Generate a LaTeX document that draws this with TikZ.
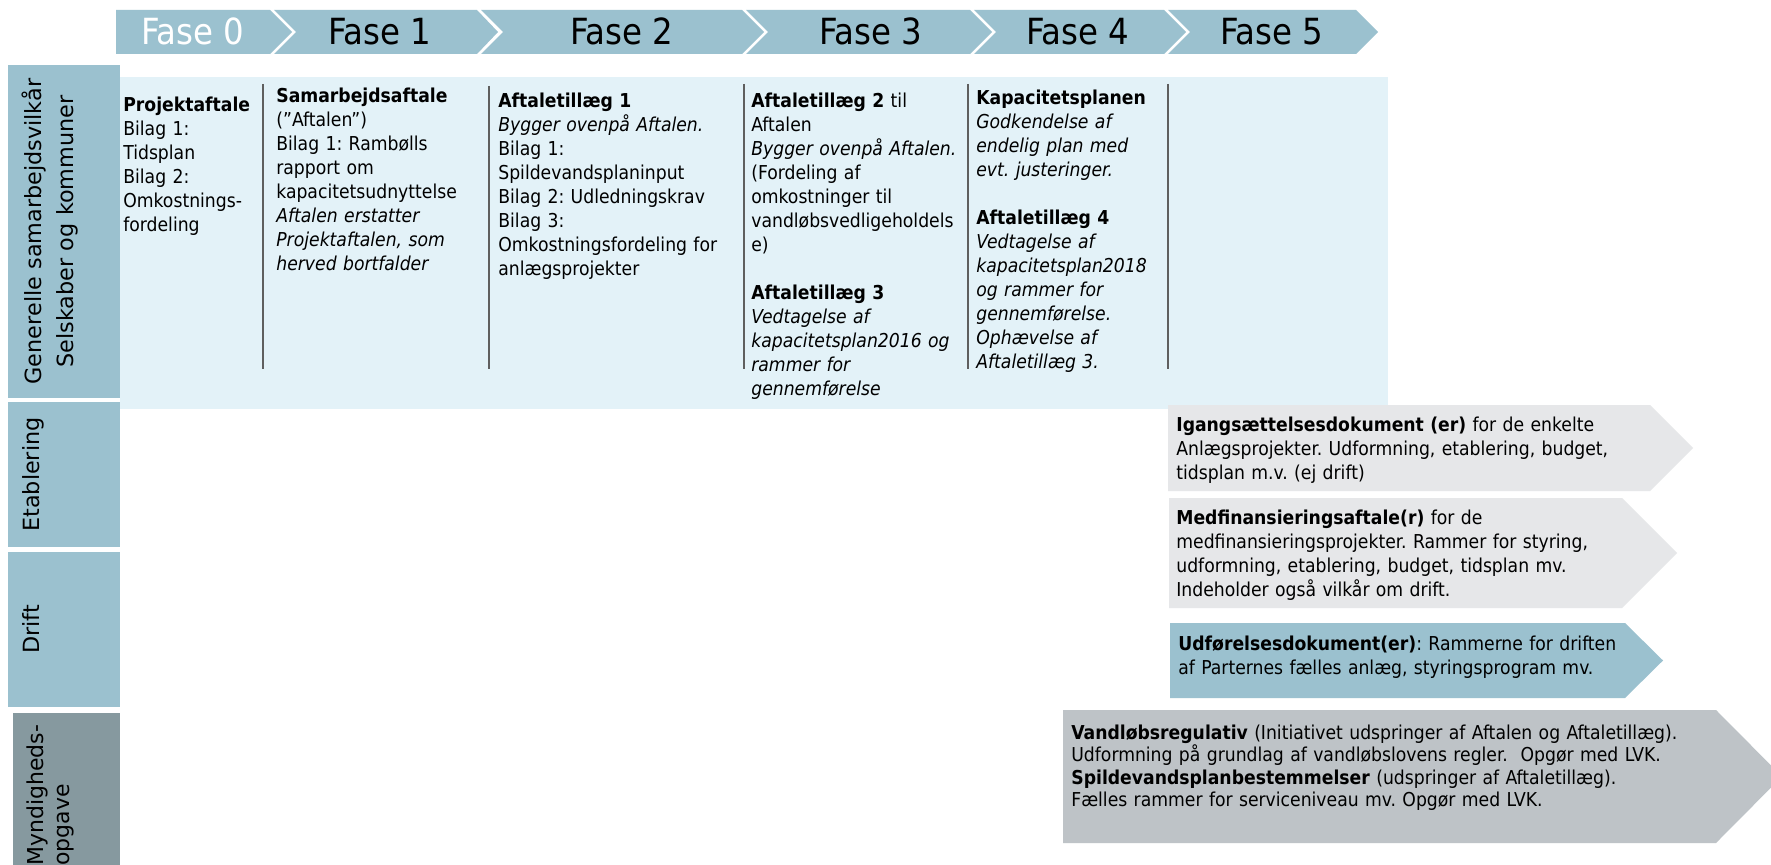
\documentclass[tikz,border=0pt]{standalone}
\usepackage{fontspec}
\setmainfont{DejaVu Sans Condensed}
\newfontfamily\sidefont{DejaVu Sans}
\frenchspacing

\definecolor{phaseblue}{RGB}{155,193,207}
\definecolor{bgblue}{RGB}{227,242,248}
\definecolor{sepgray}{RGB}{95,95,95}
\definecolor{myndgray}{RGB}{134,153,159}
\definecolor{lightarrow}{RGB}{230,231,233}
\definecolor{grayarrow}{RGB}{190,195,199}

\begin{document}
\begin{tikzpicture}[x=0.02cm, y=-0.02cm]
	\tikzset{
		fase/.style={font=\fontsize{20.5}{24}\selectfont, anchor=base, inner sep=0pt},
		txt/.style={font=\fontsize{10.9}{13.66}\selectfont, anchor=base west, inner sep=0pt, align=left, text width=5cm},
		arrtxt/.style={txt, text width=14cm},
		side/.style={font=\sidefont\fontsize{12.7}{18.2}\selectfont, rotate=90, inner sep=0pt, text width=9cm, align=center, anchor=north},
		sep/.style={draw=sepgray, line width=1pt}
	};

	\clip (0,0) rectangle (1771,865);
	\fill[white] (0,0) rectangle (1771,865);

	% phase bar
	\fill[phaseblue] (116,10) -- (270,10) -- (292,32) -- (270,54) -- (116,54) -- cycle;
	\fill[phaseblue] (274,10) -- (477,10) -- (498,32) -- (477,54) -- (274,54) -- (296,32) -- cycle;
	\fill[phaseblue] (481,10) -- (742,10) -- (764,32) -- (742,54) -- (481,54) -- (503,32) -- cycle;
	\fill[phaseblue] (746,10) -- (970,10) -- (992,32) -- (970,54) -- (746,54) -- (768,32) -- cycle;
	\fill[phaseblue] (974,10) -- (1164,10) -- (1186,32) -- (1164,54) -- (974,54) -- (996,32) -- cycle;
	\fill[phaseblue] (1168,10) -- (1356,10) -- (1378,32) -- (1356,54) -- (1168,54) -- (1190,32) -- cycle;

	\node[fase, white] (f0) at (193,45) {Fase 0};
	\node[fase] (f1) at (380,45) {Fase 1};
	\node[fase] (f2) at (622,45) {Fase 2};
	\node[fase] (f3) at (871,45) {Fase 3};
	\node[fase] (f4) at (1078,45) {Fase 4};
	\node[fase] (f5) at (1272,45) {Fase 5};

	% row labels
	\fill[phaseblue] (8,65) rectangle (120,398);
	\fill[phaseblue] (8,402) rectangle (120,547);
	\fill[phaseblue] (8,552) rectangle (120,707);
	\fill[myndgray] (13,713) rectangle (120,865);

	\node[side] (gen) at (22,231.5) {Generelle samarbejdsvilkår\\Selskaber og kommuner};
	\node[side] (etab) at (22,474.5) {Etablering};
	\node[side] (drift) at (22,629.5) {Drift};
	\node[side, align=left, anchor=north west, font=\sidefont\fontsize{12.5}{14.8}\selectfont] (mynd) at (26,866) {Myndigheds-\\opgave};

	% agreements per phase
	\fill[bgblue] (120,77) rectangle (1388,409);
	\draw[sep] (263,84) -- (263,369);
	\draw[sep] (489,86) -- (489,369);
	\draw[sep] (744,84) -- (744,369);
	\draw[sep] (968,84) -- (968,369);
	\draw[sep] (1168,84) -- (1168,369);

	\node[txt] (c0) at (123,112) {\textbf{Projektaftale}\\Bilag 1:\\Tidsplan\\Bilag 2:\\Omkostnings-\\fordeling};
	\node[txt] (c1) at (276,103) {\textbf{Samarbejdsaftale}\\(”Aftalen”)\\Bilag 1: Rambølls\\rapport om\\kapacitetsudnyttelse\\\textit{Aftalen erstatter}\\\textit{Projektaftalen, som}\\\textit{herved bortfalder}};
	\node[txt] (c2) at (498,108) {\textbf{Aftaletillæg 1}\\\textit{Bygger ovenpå Aftalen.}\\Bilag 1:\\Spildevandsplaninput\\Bilag 2: Udledningskrav\\Bilag 3:\\Omkostningsfordeling for\\anlægsprojekter};
	\node[txt] (c3) at (751,108) {\textbf{Aftaletillæg 2} til\\Aftalen\\\textit{Bygger ovenpå Aftalen.}\\(Fordeling af\\omkostninger til\\vandløbsvedligeholdels\\e)\\[13.66pt]\textbf{Aftaletillæg 3}\\\textit{Vedtagelse af}\\\textit{kapacitetsplan2016 og}\\\textit{rammer for}\\\textit{gennemførelse}};
	\node[txt] (c4) at (976,105) {\textbf{Kapacitetsplanen}\\\textit{Godkendelse af}\\\textit{endelig plan med}\\\textit{evt. justeringer.}\\[13.66pt]\textbf{Aftaletillæg 4}\\\textit{Vedtagelse af}\\\textit{kapacitetsplan2018}\\\textit{og rammer for}\\\textit{gennemførelse.}\\\textit{Ophævelse af}\\\textit{Aftaletillæg 3.}};

	% documents on the right
	\fill[lightarrow] (1168,405) -- (1650,405) -- (1693,448) -- (1650,491) -- (1168,491) -- cycle;
	\fill[lightarrow] (1169,498) -- (1622,498) -- (1677,553) -- (1622,608) -- (1169,608) -- cycle;
	\fill[phaseblue] (1170,623) -- (1625,623) -- (1663,660.5) -- (1625,698) -- (1170,698) -- cycle;
	\fill[grayarrow] (1063,710) -- (1716,710) -- (1782,776.5) -- (1716,843) -- (1063,843) -- cycle;

	\node[arrtxt] (igang) at (1176,431) {\textbf{Igangsættelsesdokument (er)} for de enkelte\\Anlægsprojekter. Udformning, etablering, budget,\\tidsplan m.v. (ej drift)};
	\node[arrtxt] (medfin) at (1176,524) {\textbf{Medfinansieringsaftale(r)} for de\\medfinansieringsprojekter. Rammer for styring,\\udformning, etablering, budget, tidsplan mv.\\Indeholder også vilkår om drift.};
	\node[arrtxt] (udf) at (1178,650) {\textbf{Udførelsesdokument(er)}: Rammerne for driften\\af Parternes fælles anlæg, styringsprogram mv.};
	\node[arrtxt, font=\fontsize{10.9}{12.86}\selectfont] (vandl) at (1071,739) {\textbf{Vandløbsregulativ} (Initiativet udspringer af Aftalen og Aftaletillæg).\\Udformning på grundlag af vandløbslovens regler.\ \ Opgør med LVK.\\\textbf{Spildevandsplanbestemmelser} (udspringer af Aftaletillæg).\\Fælles rammer for serviceniveau mv. Opgør med LVK.};
\end{tikzpicture}
\end{document}
